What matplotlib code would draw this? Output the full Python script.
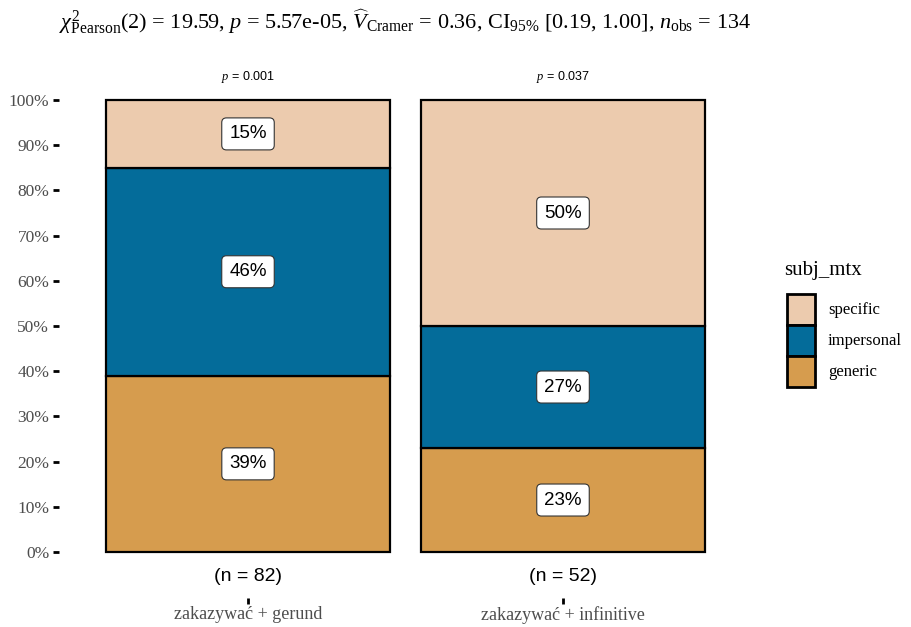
import matplotlib
matplotlib.use("Agg")
import matplotlib.pyplot as plt
from matplotlib.patches import Rectangle
from matplotlib.transforms import ScaledTranslation

# Data: percentage of subj_mtx categories within each construction
groups = ["zakazywać + gerund", "zakazywać + infinitive"]
group_n = [82, 52]
group_p = ["0.001", "0.037"]
categories = ["generic", "impersonal", "specific"]  # stacking order, bottom to top
percent_gerund = [39, 46, 15]
percent_infinitive = [23, 27, 50]
colors = {"specific": "#ECCBAE", "impersonal": "#046C9A", "generic": "#D69C4E"}

plt.rcParams["mathtext.fontset"] = "custom"
plt.rcParams["mathtext.rm"] = "Liberation Serif"
plt.rcParams["mathtext.it"] = "Liberation Serif:italic"
plt.rcParams["mathtext.bf"] = "Liberation Serif:bold"

W, H = 911, 627
fig = plt.figure(figsize=(W / 100, H / 100), dpi=100)
left, right, top, bottom = 59, 752, 55, 598
ax = fig.add_axes([left / W, 1 - bottom / H, (right - left) / W, (bottom - top) / H])

ymin = -46 / 452
ymax = 497 / 452
ax.set_xlim(0.4, 2.6)
ax.set_ylim(ymin, ymax)

pcts = [percent_gerund, percent_infinitive]
xs = [1, 2]
for x, vals in zip(xs, pcts):
    base = 0.0
    for cat, v in zip(categories, vals):
        h = v / 100
        ax.bar(x, h, bottom=base, width=0.9, color=colors[cat], edgecolor="black",
               linewidth=1.6, clip_on=False, zorder=2)
        ax.text(x, base + h / 2, f"{v}%", ha="center", va="center", fontsize=13.5,
                family="Liberation Sans", zorder=4,
                bbox=dict(boxstyle="round,pad=0.4,rounding_size=0.25", fc="white",
                          ec="#333333", lw=0.8))
        base += h

for x, n, p in zip(xs, group_n, group_p):
    ax.text(x, -0.055, f"(n = {n})", ha="center", va="center", fontsize=14,
            family="Liberation Sans")
    ax.text(x, 1.05, r"$\mathit{p}$" + f" = {p}", ha="center", va="center", fontsize=9,
            family="Liberation Sans")

ax.set_yticks([i / 10 for i in range(11)])
ax.set_yticklabels([f"{i * 10}%" for i in range(11)], family="Liberation Serif",
                   fontsize=12.5, color="#4D4D4D")
ax.set_xticks(xs)
ax.set_xticklabels(groups, family="Liberation Serif", fontsize=13, color="#4D4D4D")
shift = ScaledTranslation(-12 / 100, 0, fig.dpi_scale_trans)
for lbl in ax.get_xticklabels():
    lbl.set_transform(lbl.get_transform() + shift)
ax.tick_params(axis="both", length=4, width=2, color="black")
ax.tick_params(axis="y", pad=3)
ax.tick_params(axis="x", pad=2)
for s in ax.spines.values():
    s.set_visible(False)
ax.set_facecolor("none")

title = (r"$\chi^2_{\mathrm{Pearson}}$(2) = 19.59, $\mathit{p}$ = 5.57e-05, "
         r"$\widehat{\mathit{V}}_{\mathrm{Cramer}}$ = 0.36, CI$_{95\%}$ [0.19, 1.00], "
         r"$\mathit{n}_{\mathrm{obs}}$ = 134")
fig.text(left / W, 1 - 22 / H, title, ha="left", va="center", fontsize=16,
         family="Liberation Serif")

# Legend
fig.text(784 / W, 1 - 270 / H, "subj_mtx", family="Liberation Serif", fontsize=15,
         ha="left", va="center")
legend_order = ["specific", "impersonal", "generic"]
ky = 294
for cat in legend_order:
    fig.patches.append(Rectangle((787 / W, 1 - (ky + 31) / H), 28 / W, 31 / H,
                                 transform=fig.transFigure, fc=colors[cat],
                                 ec="black", lw=2))
    fig.text(828 / W, 1 - (ky + 16) / H, cat, family="Liberation Serif", fontsize=12,
             ha="left", va="center")
    ky += 31

fig.savefig("out.png", dpi=100)
